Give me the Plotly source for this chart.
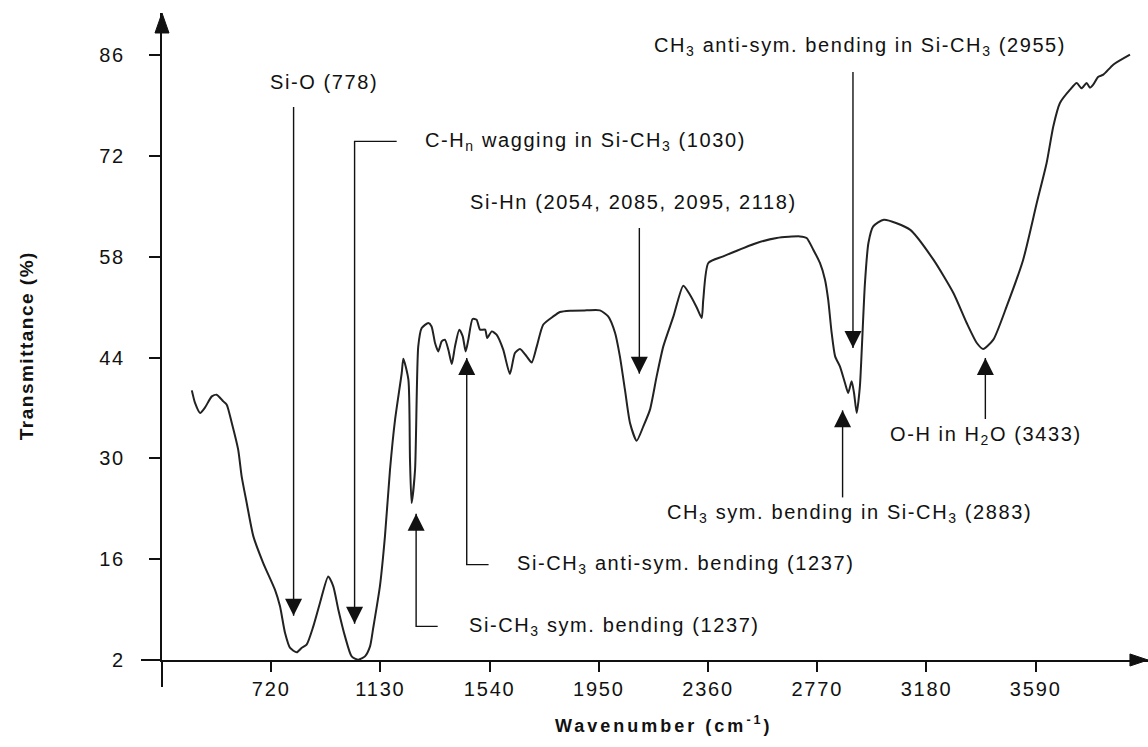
import plotly.graph_objects as go

# FTIR spectrum: wavenumber (cm-1) and transmittance (%)
wavenumber = [422, 434, 453, 471, 497, 515, 540, 553, 572, 596, 609, 628, 653, 690, 734, 753,
              772, 791, 816, 834, 853, 878, 903, 934, 953, 972, 997, 1022, 1047, 1072, 1091,
              1103, 1128, 1147, 1166, 1185, 1210, 1216, 1235, 1241, 1247, 1260, 1272, 1285,
              1310, 1322, 1335, 1347, 1360, 1372, 1385, 1398, 1410, 1426, 1439, 1450, 1460,
              1476, 1491, 1504, 1523, 1531, 1548, 1566, 1591, 1616, 1635, 1654, 1679, 1698,
              1717, 1741, 1779, 1804, 1842, 1904, 1954, 1985, 2011, 2029, 2048, 2067, 2092,
              2117, 2142, 2167, 2192, 2230, 2267, 2292, 2317, 2336, 2342, 2361, 2417, 2543,
              2618, 2705, 2730, 2755, 2780, 2799, 2811, 2824, 2837, 2855, 2874, 2886, 2899,
              2908, 2918, 2930, 2937, 2949, 2962, 2980, 3020, 3118, 3206, 3281, 3331, 3369,
              3393, 3431, 3481, 3543, 3594, 3631, 3656, 3681, 3719, 3744, 3762, 3781, 3794,
              3806, 3825, 3844, 3881, 3944]
transmittance = [39.45, 37.70, 36.31, 37.04, 38.61, 38.85, 37.92, 37.46, 34.92, 31.21, 27.50,
                 23.81, 19.17, 15.47, 11.77, 9.45, 5.75, 3.67, 3.06, 3.67, 4.13, 6.67, 9.92,
                 13.61, 12.22, 8.99, 5.28, 2.50, 2.04, 2.50, 3.89, 6.45, 12.22, 19.17, 28.43,
                 35.38, 41.86, 43.85, 40.93, 29.82, 23.81, 28.43, 45.56, 48.11, 48.81, 48.33,
                 46.03, 44.86, 46.25, 46.49, 45.10, 43.11, 45.56, 47.88, 46.95, 44.86, 46.49,
                 49.36, 49.27, 47.88, 47.88, 46.72, 47.64, 47.18, 45.10, 41.72, 44.64, 45.20,
                 44.17, 43.33, 45.56, 48.57, 49.72, 50.33, 50.52, 50.56, 50.56, 49.72, 47.42,
                 44.17, 39.54, 34.92, 32.46, 34.45, 36.77, 41.39, 45.56, 49.72, 53.99, 52.74,
                 51.00, 49.50, 52.04, 57.14, 58.06, 59.92, 60.61, 60.83, 60.61, 58.99, 57.14,
                 54.82, 52.04, 47.42, 44.17, 42.78, 40.47, 39.08, 40.70, 39.08, 36.31, 40.00,
                 45.10, 54.36, 59.92, 62.22, 63.15, 61.77, 57.60, 52.97, 48.81, 46.03, 45.20,
                 46.49, 51.11, 57.60, 65.47, 71.03, 76.11, 79.36, 81.21, 82.14, 81.40, 82.14,
                 81.49, 81.90, 83.00, 83.29, 84.68, 86.07]

x_ticks = [720, 1130, 1540, 1950, 2360, 2770, 3180, 3590]
y_ticks = [2, 16, 30, 44, 58, 72, 86]

# Band assignments: label, arrow position, arrow tip / tail, optional elbow, label anchor
band_labels = [
    "Si-O (778)",
    "C-H<sub>n</sub> wagging in Si-CH<sub>3</sub> (1030)",
    "Si-CH<sub>3</sub> sym. bending (1237)",
    "Si-CH<sub>3</sub> anti-sym. bending (1237)",
    "Si-Hn (2054, 2085, 2095, 2118)",
    "CH<sub>3</sub> anti-sym. bending in Si-CH<sub>3</sub> (2955)",
    "CH<sub>3</sub> sym. bending in Si-CH<sub>3</sub> (2883)",
    "O-H in H<sub>2</sub>O (3433)",
]
arrow_x = [804, 1033, 1264, 1454, 2102, 2904, 2865, 3401]
arrow_tip = [8.15, 7.04, 22.32, 43.95, 41.77, 45.33, 36.67, 43.95]
arrow_tail = [78.81, 74.03, 6.67, 15.24, 62.0, 83.67, 24.58, 35.47]
elbow_x = [None, 1191, 1345, 1536, None, None, None, None]
label_x = [707, 1289, 1456, 1635, 1458, 2148, 2198, 3037]
label_y = [82.22, 74.03, 6.67, 15.24, 65.61, 87.22, 22.32, 33.2]

X_RANGE = [310, 4011.6]
Y_RANGE = [2, 91.86]

FONT = "Liberation Sans, Arial, Helvetica, sans-serif"
INK = "#111111"


def spaced(txt, px):
    return f'<span style="letter-spacing:{px}px">{txt}</span>'


fig = go.Figure()
fig.add_trace(go.Scatter(
    x=wavenumber, y=transmittance, mode="lines",
    line=dict(color="#222222", width=2, shape="spline", smoothing=0.6),
    hoverinfo="skip", showlegend=False,
))

# pointer shafts (with elbow leaders) as one broken polyline
shaft_x, shaft_y = [], []
for i in range(len(band_labels)):
    if elbow_x[i] is not None:
        shaft_x += [elbow_x[i], arrow_x[i], arrow_x[i], None]
        shaft_y += [arrow_tail[i], arrow_tail[i], arrow_tip[i], None]
    else:
        shaft_x += [arrow_x[i], arrow_x[i], None]
        shaft_y += [arrow_tail[i], arrow_tip[i], None]
fig.add_trace(go.Scatter(
    x=shaft_x, y=shaft_y, mode="lines", line=dict(color=INK, width=1.4),
    hoverinfo="skip", showlegend=False,
))

# arrowheads, tip placed on the band position
head_symbols = ["arrow-down" if tip < tail else "arrow-up"
                for tip, tail in zip(arrow_tip, arrow_tail)]
fig.add_trace(go.Scatter(
    x=arrow_x, y=arrow_tip, mode="markers",
    marker=dict(symbol=head_symbols, size=17, color=INK, line=dict(width=0)),
    hoverinfo="skip", showlegend=False,
))

annotations = []
for i, lab in enumerate(band_labels):
    annotations.append(dict(
        x=label_x[i], y=label_y[i], xref="x", yref="y", text=spaced(lab, 1.6),
        showarrow=False, xanchor="left", yanchor="middle",
        font=dict(family=FONT, size=20, color=INK),
    ))

# axis titles
annotations.append(dict(
    x=-0.1379, y=0.485, xref="paper", yref="paper", textangle=-90,
    text=spaced("<b>Transmittance (%)</b>", 1.5), showarrow=False,
    xanchor="center", yanchor="middle", font=dict(family=FONT, size=19, color=INK),
))
annotations.append(dict(
    x=0.5096, y=-0.1, xref="paper", yref="paper",
    text=spaced("<b>Wavenumber (cm<sup>-1</sup>)</b>", 3), showarrow=False,
    xanchor="center", yanchor="middle", font=dict(family=FONT, size=18, color=INK),
))

# axis extensions past the origin and arrowheads at the ends
shapes = [
    dict(type="line", xref="paper", yref="paper", x0=0, x1=0, y0=0, y1=-0.0417,
         line=dict(color=INK, width=2)),
    dict(type="line", xref="paper", yref="paper", x0=-0.0213, x1=0, y0=0, y1=0,
         line=dict(color=INK, width=2)),
    dict(type="path", xref="paper", yref="paper",
         path="M -0.0071 0.9691 L 0.0071 0.9691 L 0 1 Z",
         fillcolor=INK, line=dict(color=INK, width=1)),
    dict(type="path", xref="paper", yref="paper",
         path="M 0.9817 -0.0093 L 0.9817 0.0093 L 1 0 Z",
         fillcolor=INK, line=dict(color=INK, width=1)),
]

fig.update_layout(
    width=1148, height=747,
    margin=dict(l=162, r=0, t=13, b=87),
    paper_bgcolor="white", plot_bgcolor="white",
    annotations=annotations, shapes=shapes,
    font=dict(family=FONT, size=20, color=INK),
)
fig.update_xaxes(
    range=X_RANGE, showgrid=False, zeroline=False,
    showline=True, linecolor=INK, linewidth=2,
    ticks="outside", ticklen=10, tickwidth=1.5, tickcolor=INK,
    tickvals=x_ticks, ticktext=[spaced(str(v), 1.8) for v in x_ticks],
    tickfont=dict(family=FONT, size=20, color=INK),
)
fig.update_yaxes(
    range=Y_RANGE, showgrid=False, zeroline=False,
    showline=True, linecolor=INK, linewidth=2,
    ticks="outside", ticklen=11, tickwidth=1.5, tickcolor=INK,
    tickvals=y_ticks, ticktext=[spaced(str(v), 1.8) for v in y_ticks],
    tickfont=dict(family=FONT, size=20, color=INK), ticklabelstandoff=20,
)

fig.write_html("out.html")
